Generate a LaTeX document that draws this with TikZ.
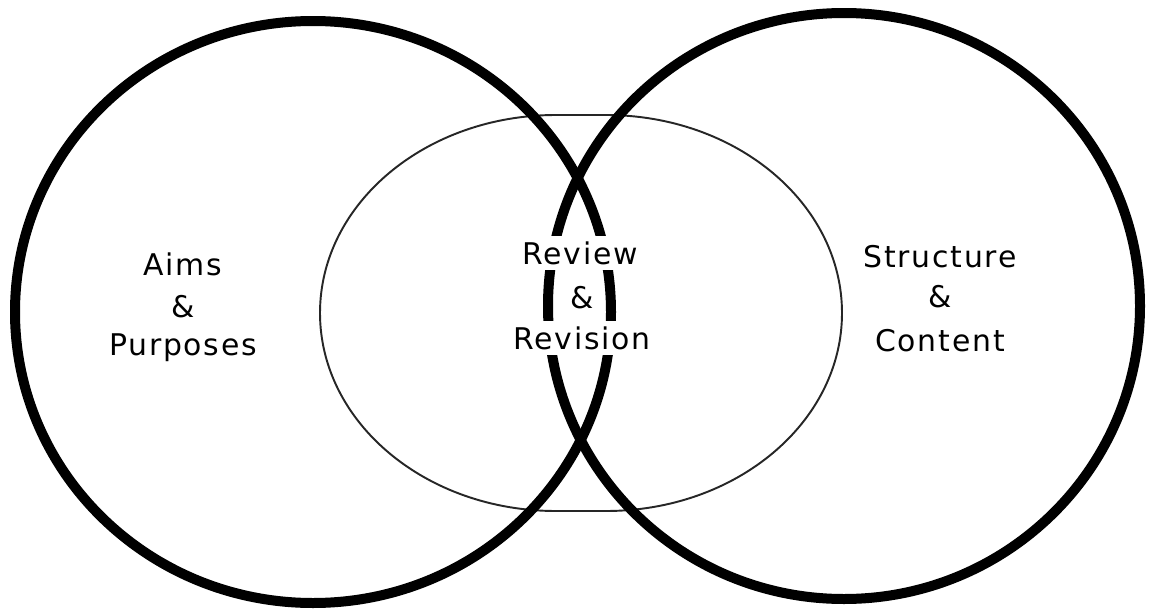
\documentclass[tikz,border=0pt]{standalone}
\usepackage{fontspec}
\setmainfont{DejaVu Sans}[LetterSpace=6]

\begin{document}
\begin{tikzpicture}[x=0.02cm, y=0.02cm,
    ring/.style={line width=0.2cm, black},
    lens/.style={line width=1.1pt, black!85},
    label/.style={anchor=base, fill=white, inner sep=3pt, font=\fontsize{17}{23}\selectfont}]

    % Khung ảnh
    \useasboundingbox (0, 0) rectangle (1150, 610);

    \coordinate (L)  at (313, 298);  % tâm vòng trái
    \coordinate (R)  at (844, 304);  % tâm vòng phải
    \coordinate (T1) at (556, 495);  % đỉnh trên, nửa trái
    \coordinate (T2) at (606, 99);   % đáy, nửa phải

    % 1. Hình bầu dục mảnh ở giữa (đỉnh và đáy phẳng)
    \draw[lens] (T1) arc[start angle=90, end angle=270, x radius=236, y radius=198]
        -- (T2) arc[start angle=-90, end angle=90, x radius=236, y radius=198]
        -- cycle;

    % 2. Hai vòng tròn đậm
    \draw[ring] (L) ellipse[x radius=298, y radius=291];
    \draw[ring] (R) ellipse[x radius=296, y radius=293];

    % 3. Nhãn (mỗi dòng một nút, nền trắng che vòng tròn)
    \node[label] (aims)     at (183, 335) {Aims};
    \node[label] (aimsamp)  at (183, 293) {\&};
    \node[label] (purposes) at (183, 255) {Purposes};

    \node[label] (review)   at (580, 346) {Review};
    \node[label] (revamp)   at (582, 302) {\&};
    \node[label] (revision) at (582, 261) {Revision};

    \node[label] (struct)   at (940, 343) {Structure};
    \node[label] (structamp) at (940, 303) {\&};
    \node[label] (content)  at (940, 259) {Content};

\end{tikzpicture}
\end{document}
